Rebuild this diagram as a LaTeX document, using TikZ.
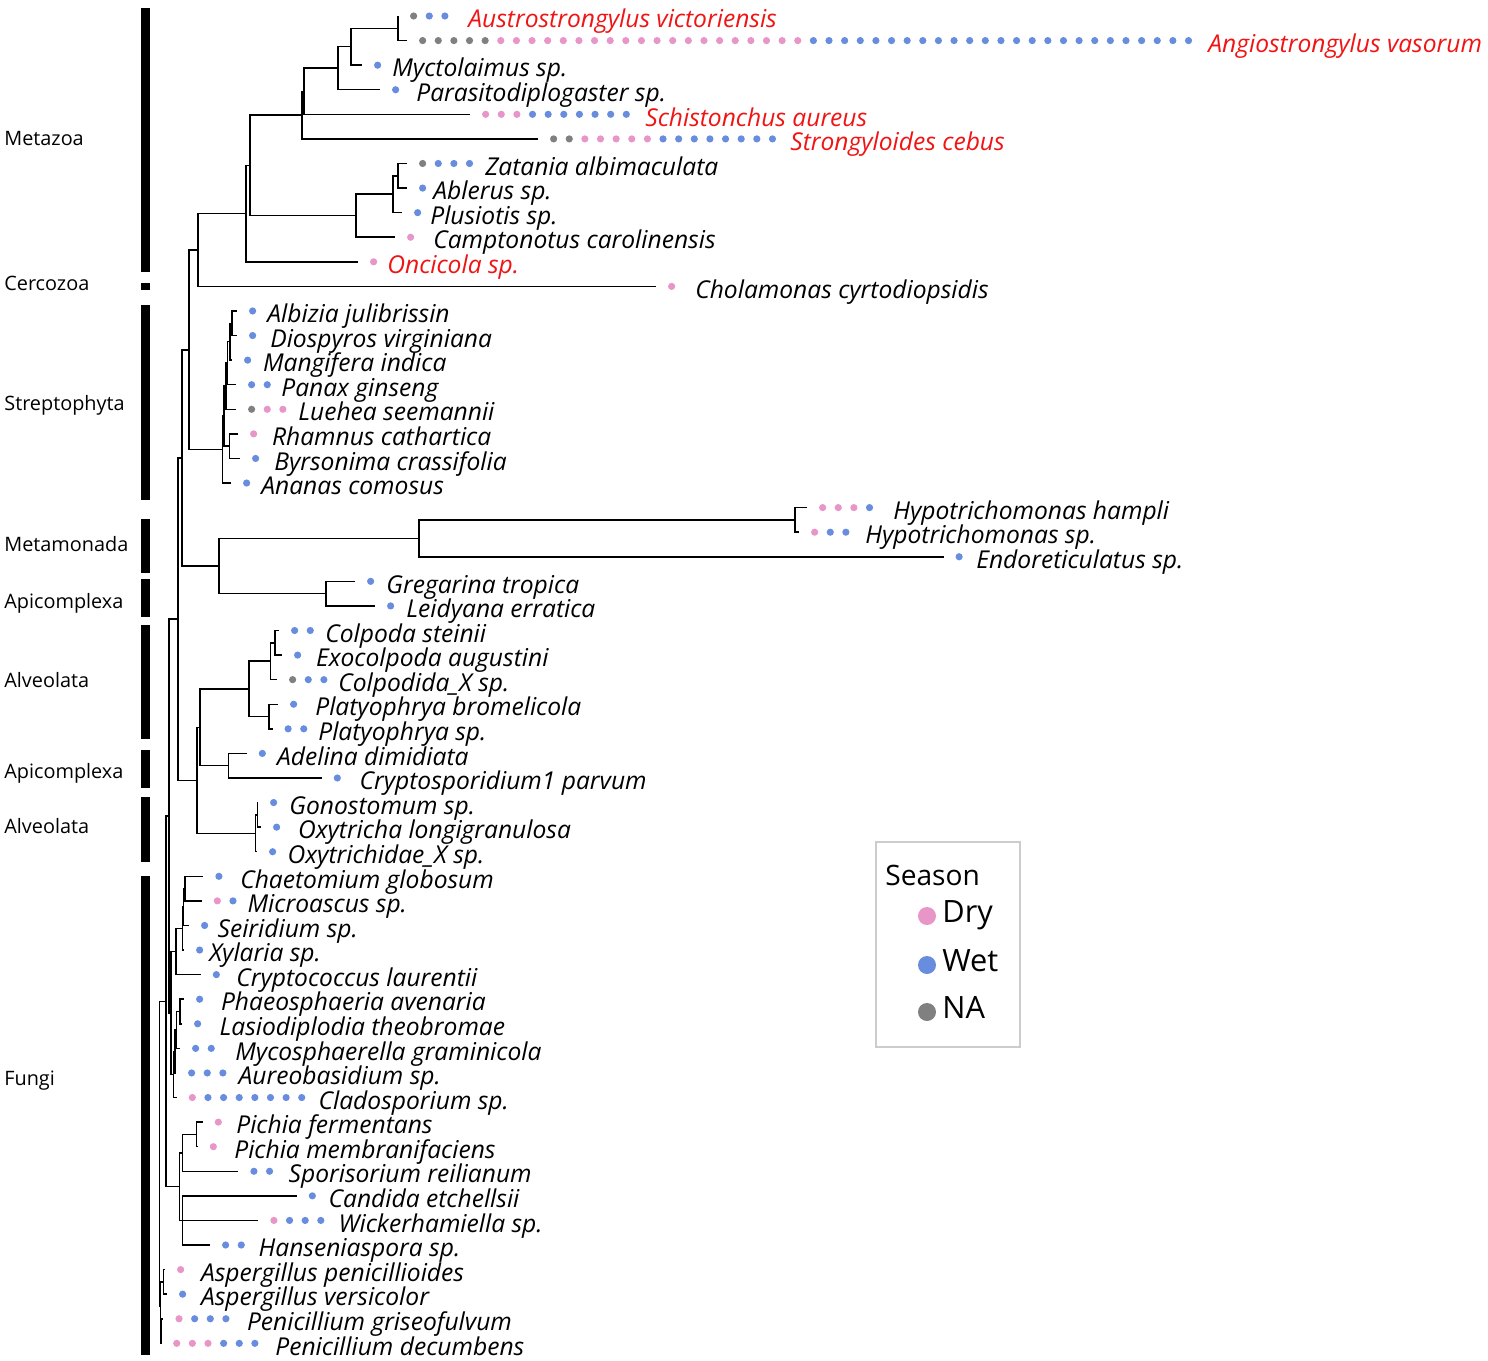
\documentclass[tikz,border=0pt]{standalone}
\usepackage{fontspec}
\setmainfont{Open Sans}
\usetikzlibrary{calc}

\definecolor{dryc}{RGB}{232,150,200}
\definecolor{wetc}{RGB}{104,141,222}
\definecolor{nac}{RGB}{128,128,128}
\definecolor{redlab}{RGB}{240,20,20}

\newcommand{\dotgap}{15.63}
\newcommand{\dotr}{0.072cm}

% dots after a tip: colour/first/last
\newcommand{\seasondots}[2]{%
  \foreach \dc/\da/\db in {#2}
    \foreach \k in {\da,...,\db}
      \fill[\dc] ($(#1)+(\k*\dotgap,0)$) circle (\dotr);}

% leaf: [label colour] name, row, tip x, label x, dots, label
\newcommand{\leaf}[7][black]{%
  \coordinate (#2) at (#4,{16+(#3-1)*24.58});
  \seasondots{#2}{#6}
  \node[tiplab, text=#1] (#2lab) at (#5,{23+(#3-1)*24.58}) {#7};}

% clade: name, x, first child, last child
\newcommand{\clade}[4]{%
  \coordinate (tmpx) at (#2,0);
  \path ($(#3)!0.5!(#4)$) coordinate (tmpm);
  \coordinate (#1) at (tmpx |- tmpm);
  \draw[branch] (#1) |- (#3) (#1) |- (#4);}

\begin{document}
\begin{tikzpicture}[
    x=0.02cm, y=-0.02cm,
    branch/.style={line width=0.85pt, black},
    tiplab/.style={font=\fontsize{14}{16}\selectfont\itshape, inner sep=0pt, anchor=mid west},
    cladelab/.style={font=\fontsize{11.3}{13}\selectfont, inner sep=0pt, anchor=mid west},
    legtitle/.style={font=\fontsize{16}{18}\selectfont, inner sep=0pt, anchor=base west},
    legitem/.style={font=\fontsize{17.5}{19}\selectfont, inner sep=0pt, anchor=mid west}
]
\useasboundingbox (0,0) rectangle (1488,1360);

% Tips
\leaf[redlab]{austro}{1}{398}{468}{nac/1/1,wetc/2/3}{Austrostrongylus victoriensis}
\leaf[redlab]{angio}{2}{407}{1208}{nac/1/5,dryc/6/25,wetc/26/50}{Angiostrongylus vasorum}
\leaf{myct}{3}{362}{392}{wetc/1/1}{Myctolaimus sp.}
\leaf{paras}{4}{380}{416}{wetc/1/1}{Parasitodiplogaster sp.}
\leaf[redlab]{schist}{5}{470}{645}{dryc/1/3,wetc/4/10}{Schistonchus aureus}
\leaf[redlab]{strong}{6}{538}{790}{nac/1/2,dryc/3/7,wetc/8/15}{Strongyloides cebus}
\leaf{zatan}{7}{407}{485}{nac/1/1,wetc/2/4}{Zatania albimaculata}
\leaf{abler}{8}{407}{433}{wetc/1/1}{Ablerus sp.}
\leaf{plusi}{9}{402}{430}{wetc/1/1}{Plusiotis sp.}
\leaf{campt}{10}{395}{433}{dryc/1/1}{Camptonotus carolinensis}
\leaf[redlab]{oncic}{11}{358}{387}{dryc/1/1}{Oncicola sp.}
\leaf{chola}{12}{656}{695}{dryc/1/1}{Cholamonas cyrtodiopsidis}
\leaf{albiz}{13}{237}{267}{wetc/1/1}{Albizia julibrissin}
\leaf{diosp}{14}{237}{270}{wetc/1/1}{Diospyros virginiana}
\leaf{mangi}{15}{232}{262.7}{wetc/1/1}{Mangifera indica}
\leaf{panax}{16}{236}{281}{wetc/1/2}{Panax ginseng}
\leaf{lueh}{17}{236}{298}{nac/1/1,dryc/2/3}{Luehea seemannii}
\leaf{rhamn}{18}{238}{271.7}{dryc/1/1}{Rhamnus cathartica}
\leaf{byrso}{19}{240}{274}{wetc/1/1}{Byrsonima crassifolia}
\leaf{ananas}{20}{231}{261}{wetc/1/1}{Ananas comosus}
\leaf{hyham}{21}{807}{893}{dryc/1/3,wetc/4/4}{Hypotrichomonas hampli}
\leaf{hysp}{22}{799}{865}{dryc/1/1,wetc/2/3}{Hypotrichomonas sp.}
\leaf{endor}{23}{943.5}{976}{wetc/1/1}{Endoreticulatus sp.}
\leaf{gregar}{24}{355}{386}{wetc/1/1}{Gregarina tropica}
\leaf{leidy}{25}{375}{406}{wetc/1/1}{Leidyana erratica}
\leaf{colst}{26}{279}{325}{wetc/1/2}{Colpoda steinii}
\leaf{exoco}{27}{282}{315.7}{wetc/1/1}{Exocolpoda augustini}
\leaf{colpx}{28}{277}{338}{nac/1/1,wetc/2/3}{Colpodida\_X sp.}
\leaf{platb}{29}{278}{315}{wetc/1/1}{Platyophrya bromelicola}
\leaf{plats}{30}{272.5}{318}{wetc/1/2}{Platyophrya sp.}
\leaf{adeli}{31}{246.7}{276.7}{wetc/1/1}{Adelina dimidiata}
\leaf{crypar}{32}{321.7}{359.3}{wetc/1/1}{Cryptosporidium1 parvum}
\leaf{gonos}{33}{258}{289}{wetc/1/1}{Gonostomum sp.}
\leaf{oxylo}{34}{261}{297.7}{wetc/1/1}{Oxytricha longigranulosa}
\leaf{oxyx}{35}{257}{287.3}{wetc/1/1}{Oxytrichidae\_X sp.}
\leaf{chaet}{36}{203.3}{240}{wetc/1/1}{Chaetomium globosum}
\leaf{micro}{37}{201.7}{247.3}{dryc/1/1,wetc/2/2}{Microascus sp.}
\leaf{seiri}{38}{189}{217.3}{wetc/1/1}{Seiridium sp.}
\leaf{xylar}{39}{184}{209}{wetc/1/1}{Xylaria sp.}
\leaf{cryla}{40}{200.7}{236}{wetc/1/1}{Cryptococcus laurentii}
\leaf{phaeo}{41}{184}{220.7}{wetc/1/1}{Phaeosphaeria avenaria}
\leaf{lasio}{42}{182}{219.3}{wetc/1/1}{Lasiodiplodia theobromae}
\leaf{mycos}{43}{180}{235}{wetc/1/2}{Mycosphaerella graminicola}
\leaf{aureo}{44}{176}{238.3}{wetc/1/3}{Aureobasidium sp.}
\leaf{clado}{45}{176.7}{318.3}{dryc/1/1,wetc/2/8}{Cladosporium sp.}
\leaf{pifer}{46}{202.7}{236}{dryc/1/1}{Pichia fermentans}
\leaf{pimem}{47}{197.7}{234}{dryc/1/1}{Pichia membranifaciens}
\leaf{spori}{48}{238.3}{288.3}{wetc/1/2}{Sporisorium reilianum}
\leaf{cande}{49}{296.7}{328.3}{wetc/1/1}{Candida etchellsii}
\leaf{wicke}{50}{258.3}{338.3}{dryc/1/1,wetc/2/4}{Wickerhamiella sp.}
\leaf{hanse}{51}{210}{258.3}{wetc/1/2}{Hanseniaspora sp.}
\leaf{asppe}{52}{165}{200.7}{dryc/1/1}{Aspergillus penicillioides}
\leaf{aspve}{53}{167}{200.7}{wetc/1/1}{Aspergillus versicolor}
\leaf{pengr}{54}{163.4}{246.7}{dryc/1/1,wetc/2/4}{Penicillium griseofulvum}
\leaf{pende}{55}{161.1}{275}{dryc/1/3,wetc/4/6}{Penicillium decumbens}

% Metazoa and Cercozoa
\clade{nAA}{398}{austro}{angio}
\clade{nAAM}{351}{nAA}{myct}
\clade{nNem1}{338}{nAAM}{paras}
\clade{nNem2}{304}{nNem1}{schist}
\clade{nNem}{302}{nNem2}{strong}
\clade{nIns3}{398}{zatan}{abler}
\clade{nIns2}{393}{nIns3}{plusi}
\clade{nIns}{356}{nIns2}{campt}
\clade{nMet1}{250}{nNem}{nIns}
\clade{nMet}{246}{nMet1}{oncic}
\clade{nMC}{198}{nMet}{chola}

% Streptophyta
\clade{nSt1}{232}{albiz}{diosp}
\clade{nSt2}{230}{nSt1}{mangi}
\clade{nSt3}{227.5}{nSt2}{panax}
\clade{nSt4}{226}{nSt3}{lueh}
\clade{nSt5}{229.3}{rhamn}{byrso}
\clade{nSt6}{224}{nSt4}{nSt5}
\clade{nSt}{222.7}{nSt6}{ananas}
\clade{nF}{189}{nMC}{nSt}

% Metamonada, Apicomplexa
\clade{nHy}{795}{hyham}{hysp}
\clade{nHE}{419}{nHy}{endor}
\clade{nGL}{326}{gregar}{leidy}
\clade{nMA}{219}{nHE}{nGL}
\clade{nG}{182}{nF}{nMA}

% Alveolata
\clade{nCo1}{275}{colst}{exoco}
\clade{nCo2}{270.7}{nCo1}{colpx}
\clade{nPl}{269}{platb}{plats}
\clade{nCo}{249}{nCo2}{nPl}
\clade{nAd}{228.3}{adeli}{crypar}
\clade{nJ}{200}{nCo}{nAd}
\clade{nOx1}{257.3}{gonos}{oxylo}
\clade{nOx}{255.7}{nOx1}{oxyx}
\clade{nI}{197}{nJ}{nOx}
\clade{nH}{178}{nG}{nI}

% Fungi
\clade{nFu1}{185}{chaet}{micro}
\clade{nFu2}{183.3}{nFu1}{seiri}
\clade{nFu3}{182.3}{nFu2}{xylar}
\clade{nFu4}{176}{nFu3}{cryla}
\clade{nFu5}{180}{phaeo}{lasio}
\clade{nFu6}{176.7}{nFu5}{mycos}
\clade{nFu7}{175}{nFu6}{aureo}
\clade{nFu8}{173.5}{nFu7}{clado}
\clade{nFu9}{171}{nFu4}{nFu8}
\clade{nPi}{196.7}{pifer}{pimem}
\clade{nPS}{182.7}{nPi}{spori}
\clade{nCWH}{182.7}{cande}{hanse}
\draw[branch] (nCWH) |- (wicke);
\clade{nFu10}{179.3}{nPS}{nCWH}
\clade{nP}{169}{nH}{nFu9}
\clade{nBig}{166}{nP}{nFu10}
\clade{nAs}{163.3}{asppe}{aspve}
\clade{nPe}{160.8}{pengr}{pende}
\clade{nFu12}{160.5}{nAs}{nPe}
\clade{nRoot}{159.5}{nBig}{nFu12}

% Group bars and names
\foreach \ya/\yb/\ly/\lab [count=\q] in {8/272/140/Metazoa, 283/290/285/Cercozoa,
    305/500/405/Streptophyta, 519/573/546/Metamonada, 579/617/603/Apicomplexa,
    625/739/682/Alveolata, 750/788/773/Apicomplexa, 797/862/828/Alveolata,
    876/1355/1080/Fungi} {
  \fill (141,\ya) rectangle (150,\yb);
  \node[cladelab] (grp\q) at (4,\ly+1) {\lab};
}

% Legend
\draw[gray!40, line width=0.6pt] (876,842) rectangle (1020,1047);
\node[legtitle] (legtitle) at (885,885) {Season};
\foreach \c/\t/\yy [count=\q] in {dryc/Dry/916, wetc/Wet/965, nac/NA/1012} {
  \fill[\c] (927,\yy) circle (0.18cm);
  \node[legitem] (leg\q) at (942,\yy+2) {\t};
}

\end{tikzpicture}
\end{document}
